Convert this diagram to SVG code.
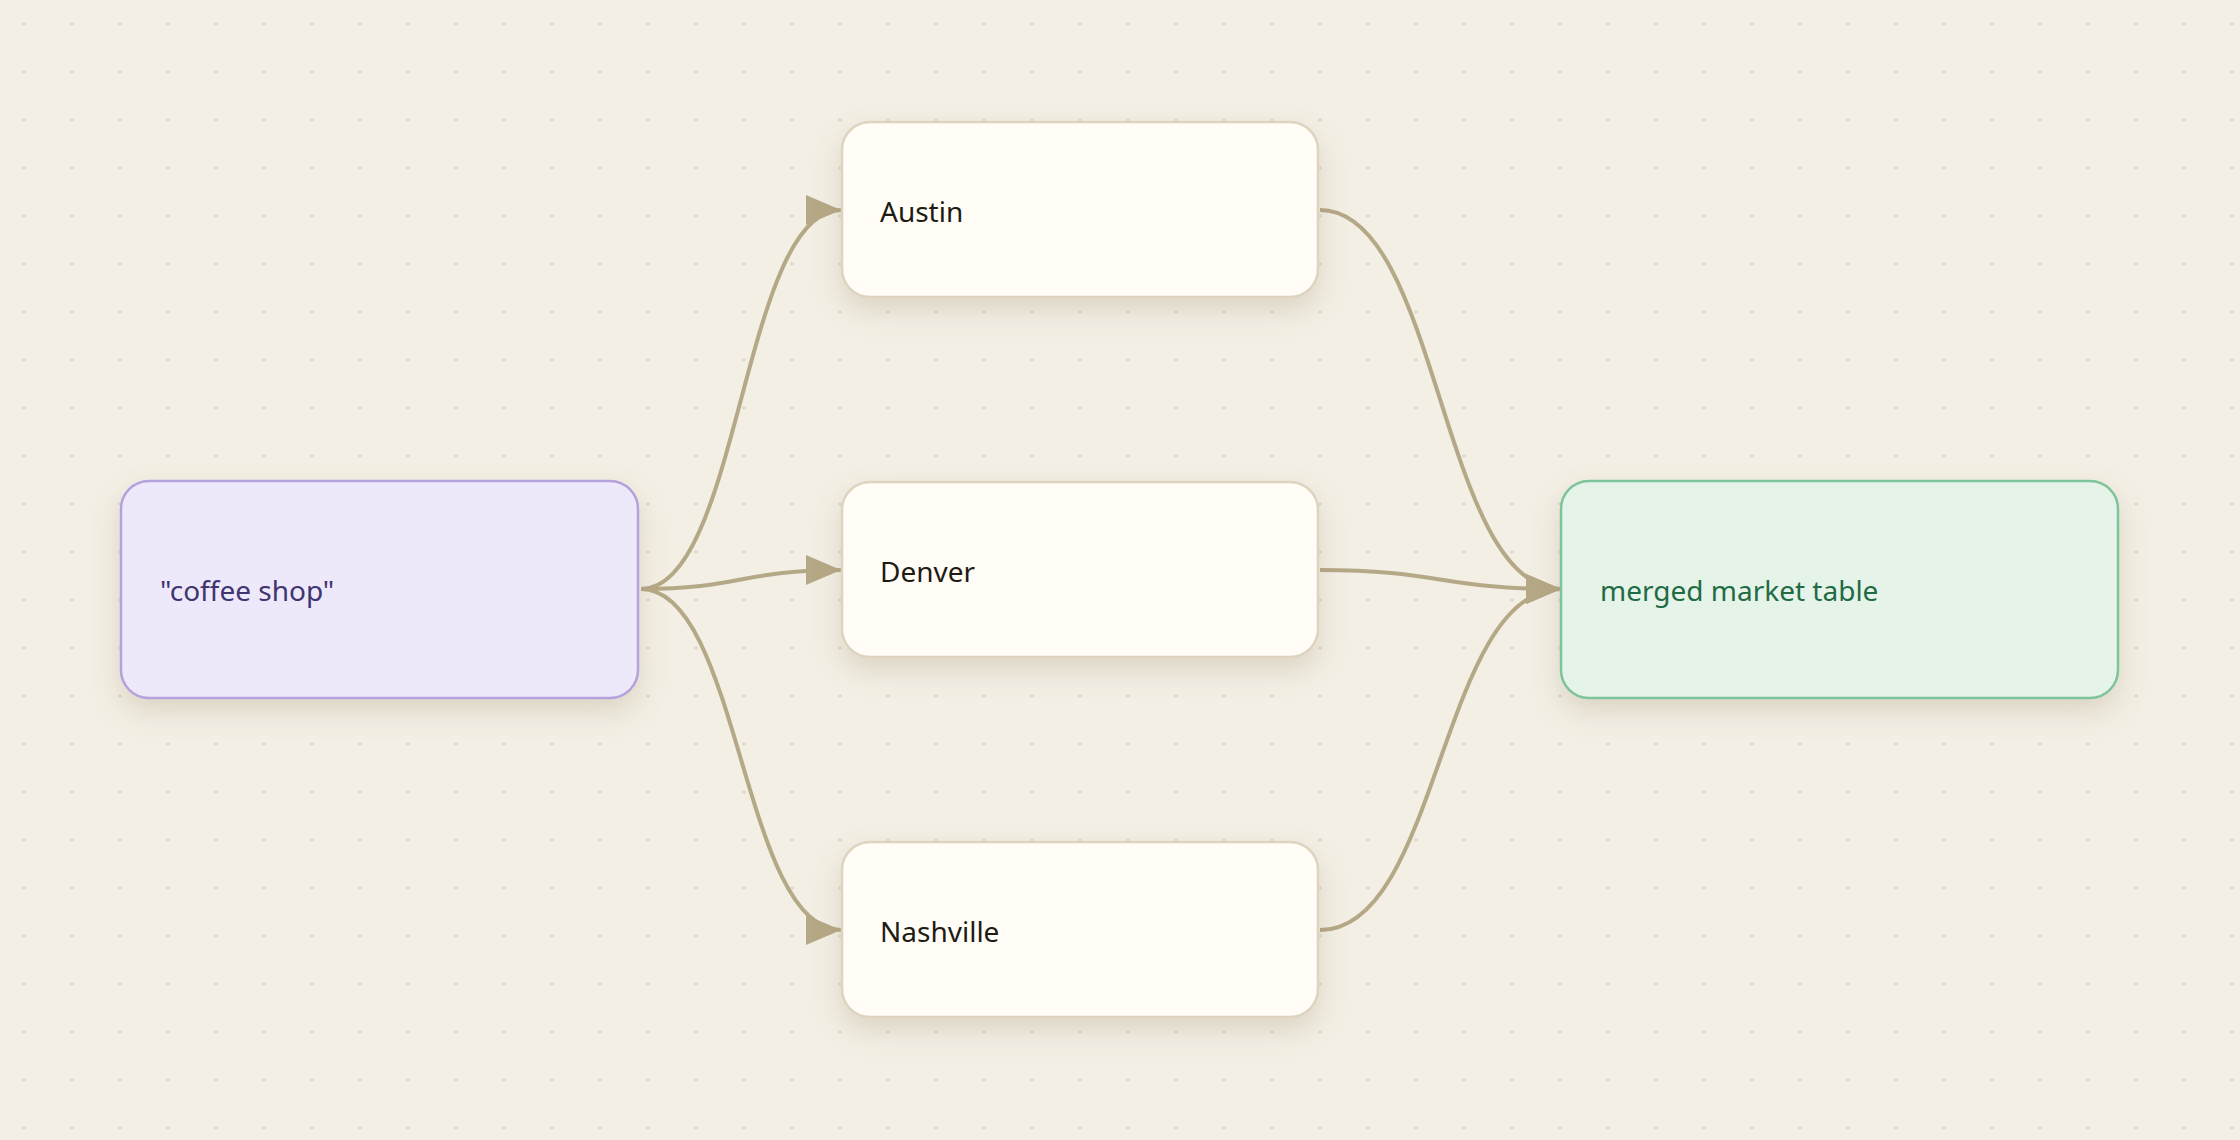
<svg xmlns="http://www.w3.org/2000/svg" width="2240" height="1140" viewBox="0 0 2240 1140">
<defs>
<pattern id="dots" x="0" y="0" width="48" height="48" patternUnits="userSpaceOnUse">
<circle cx="24" cy="24" r="1.8" fill="#DDD8CB"/>
</pattern>
<filter id="shadow" x="-20%" y="-20%" width="140%" height="170%">
<feDropShadow dx="0" dy="12" stdDeviation="14" flood-color="#8A7550" flood-opacity="0.22"/>
</filter>
<marker id="arrow" markerUnits="userSpaceOnUse" markerWidth="38" markerHeight="32" refX="35" refY="15" orient="auto">
<path d="M0,0 L35,15 L0,30 Z" fill="#B5A886"/>
</marker>
</defs>
<style>
text { font-family: "Noto Sans", "Open Sans", sans-serif; font-size: 28px; }
.edge { fill: none; stroke: #B5A886; stroke-width: 4; marker-end: url(#arrow); }
.city rect { fill: #FFFDF6; stroke: #DDD3BE; stroke-width: 2.5; filter: url(#shadow); }
.city text { fill: #1E1A14; }
</style>
<rect width="2240" height="1140" fill="#F3EFE5"/>
<rect width="2240" height="1140" fill="url(#dots)"/>

<g id="connectors">
<path class="edge" d="M641,589 C740,589 742,210 841,210"/>
<path class="edge" d="M641,589 C740,589 742,570 841,570"/>
<path class="edge" d="M641,589 C740,589 742,930 841,930"/>
<path class="edge" d="M1320,210 C1440,210 1440,589 1561,589"/>
<path class="edge" d="M1320,570 C1440,570 1440,589 1561,589"/>
<path class="edge" d="M1320,930 C1440,930 1440,589 1561,589"/>
</g>

<g id="node-coffee">
<rect x="121" y="481" width="517" height="217" rx="28" fill="#EEE9FA" stroke="#B4A2DD" stroke-width="2.5" filter="url(#shadow)"/>
<text x="160" y="601" fill="#3F3570">"coffee shop"</text>
</g>

<g id="node-austin" class="city">
<rect x="842" y="122" width="476" height="175" rx="28"/>
<text x="880" y="222">Austin</text>
</g>

<g id="node-denver" class="city">
<rect x="842" y="482" width="476" height="175" rx="28"/>
<text x="880" y="582">Denver</text>
</g>

<g id="node-nashville" class="city">
<rect x="842" y="842" width="476" height="175" rx="28"/>
<text x="880" y="942">Nashville</text>
</g>

<g id="node-merged">
<rect x="1561" y="481" width="557" height="217" rx="28" fill="#E6F3E8" stroke="#7EC49A" stroke-width="2.5" filter="url(#shadow)"/>
<text x="1600" y="601" fill="#1F6B45">merged market table</text>
</g>
</svg>
